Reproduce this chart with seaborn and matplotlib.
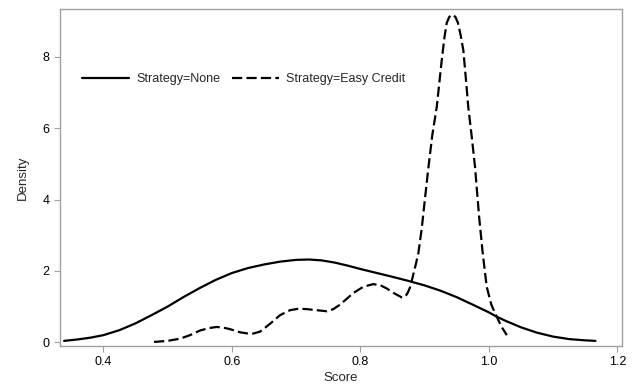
import matplotlib
matplotlib.use("Agg")
import matplotlib.pyplot as plt
import seaborn as sns
import pandas as pd

# Density curve for Strategy=None
none_score = [0.339, 0.36, 0.38, 0.40, 0.425, 0.45, 0.475, 0.50, 0.525, 0.55, 0.575,
              0.60, 0.625, 0.65, 0.675, 0.70, 0.72, 0.74, 0.76, 0.78, 0.80, 0.825,
              0.85, 0.875, 0.90, 0.925, 0.95, 0.975, 1.00, 1.0122, 1.025, 1.05, 1.075,
              1.10, 1.125, 1.15, 1.166]
none_density = [0.04, 0.08, 0.13, 0.20, 0.34, 0.53, 0.76, 1.00, 1.27, 1.52, 1.75,
                1.94, 2.08, 2.18, 2.26, 2.31, 2.32, 2.295, 2.235, 2.15, 2.055, 1.945,
                1.835, 1.72, 1.595, 1.445, 1.265, 1.055, 0.84, 0.72, 0.61, 0.42, 0.27,
                0.16, 0.09, 0.055, 0.04]

# Density curve for Strategy=Easy Credit
easy_score = [0.479, 0.50, 0.519, 0.535, 0.5505, 0.565, 0.5765, 0.587, 0.597, 0.613,
              0.6235, 0.6335, 0.644, 0.654, 0.665, 0.675, 0.6906, 0.7035, 0.7166,
              0.732, 0.7477, 0.758, 0.768, 0.779, 0.789, 0.805, 0.8202, 0.831, 0.841,
              0.853, 0.8644, 0.869, 0.873, 0.877, 0.88, 0.8867, 0.8903, 0.8956, 0.9006,
              0.9058, 0.912, 0.919, 0.9267, 0.931, 0.9345, 0.9385, 0.9435, 0.948,
              0.952, 0.956, 0.9603, 0.964, 0.968, 0.9735, 0.9785, 0.985, 0.9905,
              0.9967, 1.004, 1.0122, 1.02, 1.028]
easy_density = [0.01, 0.04, 0.10, 0.20, 0.33, 0.40, 0.43, 0.41, 0.37, 0.28,
                0.25, 0.245, 0.30, 0.44, 0.60, 0.76, 0.90, 0.94, 0.93,
                0.90, 0.87, 0.93, 1.05, 1.22, 1.38, 1.56, 1.63, 1.60, 1.51,
                1.37, 1.26, 1.27, 1.36, 1.52, 1.72, 2.21, 2.49, 3.19, 4.02,
                4.87, 5.80, 6.60, 7.90, 8.55, 8.95, 9.12, 9.18, 9.12,
                8.95, 8.62, 8.19, 7.45, 6.60, 5.75, 4.92, 3.50, 2.50,
                1.56, 1.05, 0.72, 0.43, 0.20]

label_none = "Strategy=None"
label_easy = "Strategy=Easy Credit"

df_none = pd.DataFrame({"Score": none_score, "Density": none_density})
df_easy = pd.DataFrame({"Score": easy_score, "Density": easy_density})

sns.set_style("ticks")
plt.rcParams["font.family"] = ["Liberation Sans", "DejaVu Sans"]

fig = plt.figure(figsize=(6.39, 3.85), dpi=100)
ax = fig.add_axes([0.0939, 0.1021, 0.8795, 0.8745])

sns.lineplot(data=df_none, x="Score", y="Density", ax=ax, color="black",
             linewidth=1.6, label=label_none, sort=False, estimator=None)
sns.lineplot(data=df_easy, x="Score", y="Density", ax=ax, color="black",
             linewidth=1.6, linestyle=(0, (4.6, 1.9)), label=label_easy,
             sort=False, estimator=None)

ax.set_xlim(0.3326, 1.2073)
ax.set_ylim(-0.095, 9.34)
ax.set_xticks([0.4, 0.6, 0.8, 1.0, 1.2])
ax.set_xticklabels(["0.4", "0.6", "0.8", "1.0", "1.2"])
ax.set_yticks([0, 2, 4, 6, 8])
ax.set_xlabel("Score", fontsize=9.5, labelpad=3)
ax.set_ylabel("Density", fontsize=9.5, labelpad=10)

for s in ax.spines.values():
    s.set_visible(True)
    s.set_color("#a0a0a0")
    s.set_linewidth(1.0)
ax.tick_params(axis="both", which="major", direction="out", length=4,
               width=0.8, color="#a0a0a0", labelsize=9, labelcolor="black", pad=3.5)

leg = ax.legend(loc="center left", bbox_to_anchor=(0.039, 0.792), ncol=2,
                frameon=False, fontsize=9, handlelength=3.8, handletextpad=0.55,
                columnspacing=0.9, borderpad=0, borderaxespad=0)

fig.savefig("out.png", dpi=100)
